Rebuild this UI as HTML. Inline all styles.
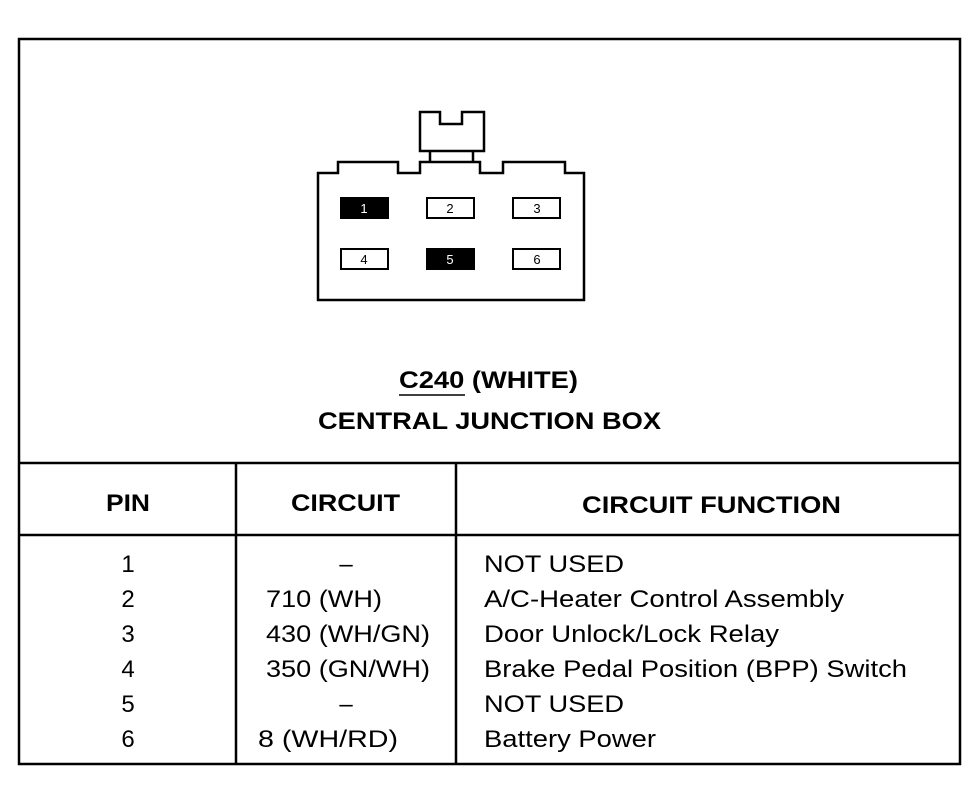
<!DOCTYPE html>
<html><head><style>html,body{margin:0;padding:0;background:#fff}svg{display:block}</style></head>
<body>
<svg width="974" height="800" viewBox="0 0 974 800" xmlns="http://www.w3.org/2000/svg" font-family="Liberation Sans, Arial, sans-serif">
<rect x="0" y="0" width="974" height="800" fill="#fff"/>
<g fill="none" stroke="#000" stroke-width="2.5">
<rect x="19" y="39" width="941" height="725"/>
<line x1="19" y1="463" x2="960" y2="463"/>
<line x1="19" y1="535" x2="960" y2="535"/>
<line x1="236" y1="463" x2="236" y2="764"/>
<line x1="456" y1="463" x2="456" y2="764"/>
<path d="M318 173 L338 173 L338 162 L398 162 L398 173 L420 173 L420 162 L480 162 L480 173 L503 173 L503 162 L565 162 L565 173 L584 173 L584 300 L318 300 Z"/>
<path d="M420 112 L440 112 L440 124 L462 124 L462 112 L484 112 L484 151 L420 151 Z"/>
<line x1="430" y1="151" x2="430" y2="162"/>
<line x1="473" y1="151" x2="473" y2="162"/>
<rect x="427" y="198" width="47" height="20" stroke-width="2"/>
<rect x="513" y="198" width="47" height="20" stroke-width="2"/>
<rect x="341" y="249" width="47" height="20" stroke-width="2"/>
<rect x="513" y="249" width="47" height="20" stroke-width="2"/>
</g>
<rect x="340" y="197" width="49" height="22" fill="#000"/>
<rect x="426" y="248" width="49" height="22" fill="#000"/>
<g font-size="13" text-anchor="middle">
<text x="364" y="213" fill="#fff">1</text>
<text x="450" y="213">2</text>
<text x="537" y="213">3</text>
<text x="364" y="264">4</text>
<text x="450" y="264" fill="#fff">5</text>
<text x="537" y="264">6</text>
</g>
<g font-weight="bold" font-size="24">
<text x="399" y="388" textLength="179" lengthAdjust="spacingAndGlyphs">C240 (WHITE)</text>
<text x="318" y="429" textLength="343" lengthAdjust="spacingAndGlyphs">CENTRAL JUNCTION BOX</text>
<text x="106" y="511" textLength="44" lengthAdjust="spacingAndGlyphs">PIN</text>
<text x="291" y="511" textLength="109" lengthAdjust="spacingAndGlyphs">CIRCUIT</text>
<text x="582" y="513" textLength="259" lengthAdjust="spacingAndGlyphs">CIRCUIT FUNCTION</text>
</g>
<line x1="399" y1="395" x2="465" y2="395" stroke="#000" stroke-width="1.5"/>
<g font-size="24" text-anchor="middle">
<text x="128" y="572">1</text><text x="128" y="607">2</text><text x="128" y="642">3</text>
<text x="128" y="677">4</text><text x="128" y="712">5</text><text x="128" y="747">6</text>
<text x="346" y="572">–</text><text x="346" y="712">–</text>
</g>
<g font-size="24">
<text x="266" y="607" textLength="116" lengthAdjust="spacingAndGlyphs">710 (WH)</text>
<text x="266" y="642" textLength="164" lengthAdjust="spacingAndGlyphs">430 (WH/GN)</text>
<text x="266" y="677" textLength="164" lengthAdjust="spacingAndGlyphs">350 (GN/WH)</text>
<text x="258" y="747" textLength="140" lengthAdjust="spacingAndGlyphs">8 (WH/RD)</text>
<text x="484" y="572" textLength="140" lengthAdjust="spacingAndGlyphs">NOT USED</text>
<text x="484" y="607" textLength="360" lengthAdjust="spacingAndGlyphs">A/C-Heater Control Assembly</text>
<text x="484" y="642" textLength="295" lengthAdjust="spacingAndGlyphs">Door Unlock/Lock Relay</text>
<text x="484" y="677" textLength="423" lengthAdjust="spacingAndGlyphs">Brake Pedal Position (BPP) Switch</text>
<text x="484" y="712" textLength="140" lengthAdjust="spacingAndGlyphs">NOT USED</text>
<text x="484" y="747" textLength="172" lengthAdjust="spacingAndGlyphs">Battery Power</text>
</g>
</svg>
</body></html>
